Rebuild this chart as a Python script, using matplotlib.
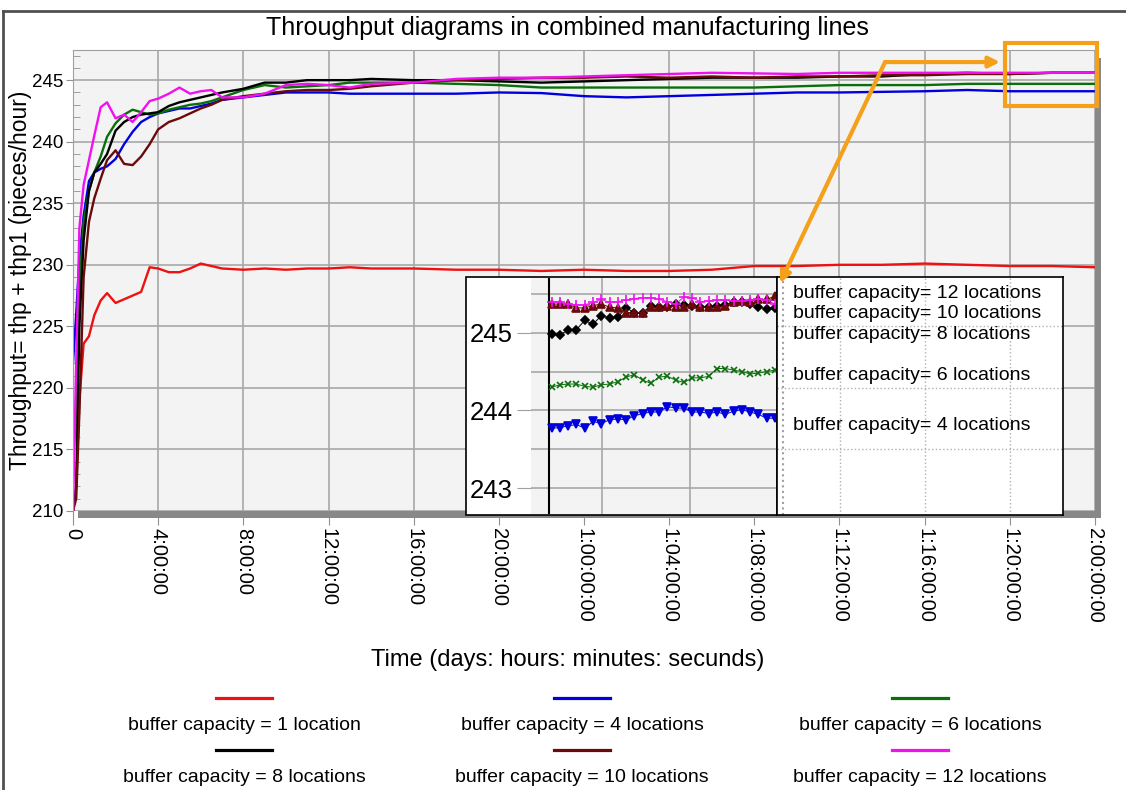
import numpy as np
import matplotlib.pyplot as plt
from matplotlib.patches import Rectangle, FancyArrowPatch
from matplotlib.lines import Line2D

plt.rcParams['font.family'] = ['Liberation Sans', 'DejaVu Sans']

# ---- data ----
hours = [0, 0.15, 0.3, 0.5, 0.75, 1.0, 1.3, 1.6, 2.0, 2.4, 2.8, 3.2, 3.6, 4.0, 4.5, 5.0, 5.5, 6.0, 6.5, 7.0,
         8, 9, 10, 11, 12, 13, 14,
         16, 18, 20, 22, 24, 26, 28, 30, 32, 34, 36, 38, 40, 42, 44, 46, 48]

thp_buf1 = [210, 212, 219, 223.6, 224.2, 225.9, 227.1, 227.7, 226.9, 227.2, 227.5, 227.8, 229.8, 229.7, 229.4,
            229.4, 229.7, 230.1, 229.9, 229.7,
            229.6, 229.7, 229.6, 229.7, 229.7, 229.8, 229.7,
            229.7, 229.6, 229.6, 229.5, 229.6, 229.5, 229.5, 229.6, 229.9, 229.9, 230.0, 230.0, 230.1, 230.0,
            229.9, 229.9, 229.8]
thp_buf4 = [222, 226, 230.5, 234, 236.8, 237.5, 237.8, 238.0, 238.6, 239.8, 240.8, 241.6, 242.0, 242.3, 242.5,
            242.7, 242.7, 242.9, 243.1, 243.4,
            243.6, 243.8, 244.0, 244.0, 244.0, 243.9, 243.9,
            243.9, 243.9, 244.0, 243.95, 243.7, 243.6, 243.7, 243.8, 243.9, 244.0, 244.0, 244.05, 244.1, 244.2,
            244.1, 244.1, 244.1]
thp_buf6 = [214, 218, 228, 233.5, 236, 237.5, 238.8, 240.4, 241.5, 242.2, 242.6, 242.4, 242.2, 242.3, 242.6,
            242.8, 243.0, 243.1, 243.3, 243.6,
            244.2, 244.6, 244.4, 244.5, 244.6, 244.8, 244.8,
            244.8, 244.7, 244.6, 244.4, 244.4, 244.4, 244.4, 244.4, 244.4, 244.5, 244.6, 244.6, 244.6, 244.7,
            244.7, 244.7, 244.7]
thp_buf8 = [210, 212, 225, 232, 236, 237.5, 238.2, 239.0, 240.9, 241.6, 242.0, 242.2, 242.3, 242.4, 242.9,
            243.2, 243.4, 243.6, 243.8, 244.0,
            244.3, 244.8, 244.8, 245.0, 245.0, 245.0, 245.1,
            245.0, 245.0, 244.9, 244.8, 244.9, 245.0, 245.1, 245.2, 245.2, 245.2, 245.3, 245.3, 245.5, 245.6,
            245.5, 245.6, 245.6]
thp_buf10 = [210, 211, 218, 229, 233.5, 235.4, 237.0, 238.5, 239.3, 238.2, 238.1, 238.8, 239.8, 241.0, 241.6,
             241.9, 242.3, 242.7, 243.0, 243.4,
             243.7, 243.9, 244.1, 244.2, 244.2, 244.3, 244.5,
             244.8, 245.0, 245.1, 245.2, 245.2, 245.3, 245.2, 245.3, 245.2, 245.3, 245.3, 245.4, 245.4, 245.5,
             245.5, 245.6, 245.6]
thp_buf12 = [210, 222, 233, 236.5, 238.5, 240.5, 242.8, 243.2, 241.9, 242.2, 241.6, 242.4, 243.3, 243.5, 243.9,
             244.4, 243.9, 244.1, 244.2, 243.6,
             243.6, 243.9, 244.6, 244.7, 244.6, 244.4, 244.7,
             244.8, 245.1, 245.2, 245.2, 245.3, 245.4, 245.5, 245.6, 245.55, 245.5, 245.6, 245.6, 245.6, 245.6,
             245.6, 245.6, 245.6]

# zoomed detail of the last hours
inset_hours = np.linspace(44.0, 48.0, 28)
inset_buf4 = [243.77, 243.78, 243.80, 243.82, 243.77, 243.86, 243.83, 243.88, 243.89, 243.88, 243.93, 243.96,
              243.98, 243.98, 244.05, 244.03, 244.03, 243.98, 243.98, 243.96, 243.98, 243.95, 243.99, 244.01,
              243.98, 243.95, 243.90, 243.90]
inset_buf6 = [244.30, 244.33, 244.34, 244.34, 244.31, 244.30, 244.33, 244.34, 244.37, 244.43, 244.46, 244.39,
              244.35, 244.43, 244.44, 244.39, 244.36, 244.42, 244.42, 244.44, 244.54, 244.54, 244.52, 244.50,
              244.47, 244.48, 244.50, 244.52]
inset_buf8 = [244.98, 244.97, 245.04, 245.04, 245.16, 245.11, 245.22, 245.19, 245.20, 245.32, 245.26, 245.26,
              245.35, 245.33, 245.33, 245.37, 245.36, 245.35, 245.33, 245.33, 245.35, 245.36, 245.39, 245.39,
              245.37, 245.33, 245.31, 245.32]
inset_buf10 = [245.37, 245.37, 245.37, 245.32, 245.32, 245.35, 245.37, 245.33, 245.32, 245.26, 245.26, 245.26,
               245.33, 245.33, 245.35, 245.33, 245.33, 245.37, 245.33, 245.33, 245.33, 245.35, 245.39, 245.41,
               245.40, 245.43, 245.43, 245.47]
inset_buf12 = [245.40, 245.39, 245.37, 245.36, 245.36, 245.39, 245.43, 245.39, 245.40, 245.42, 245.44, 245.45,
               245.45, 245.43, 245.40, 245.37, 245.46, 245.45, 245.40, 245.41, 245.42, 245.42, 245.41, 245.41,
               245.42, 245.43, 245.42, 245.37]

x_tick_labels = ["0", "4:00:00", "8:00:00", "12:00:00", "16:00:00", "20:00:00", "1:00:00:00", "1:04:00:00",
                 "1:08:00:00", "1:12:00:00", "1:16:00:00", "1:20:00:00", "2:00:00:00"]
legend_labels = ["buffer capacity = 1 location", "buffer capacity = 4 locations", "buffer capacity = 6 locations",
                 "buffer capacity = 8 locations", "buffer capacity = 10 locations", "buffer capacity = 12 locations"]
inset_labels = ["buffer capacity= 12 locations", "buffer capacity= 10 locations", "buffer capacity= 8 locations",
                "buffer capacity= 6 locations", "buffer capacity= 4 locations"]

colors = ["#ee1111", "#0000dd", "#0a6e0a", "#000000", "#6a0a0a", "#f010f0"]
ORANGE = "#f5a01a"


# ---- helpers: pixel -> figure fraction ----
def fx(px):
    return px / 1126


def fy(py):
    return 1 - py / 790


fig = plt.figure(figsize=(11.26, 7.9), dpi=100)

# main axes
ax = fig.add_axes([fx(73), fy(511), 1022 / 1126, 461 / 790])
ax.set_facecolor("#f3f3f3")
series = [thp_buf1, thp_buf4, thp_buf6, thp_buf8, thp_buf10, thp_buf12]
for vals, c in zip(series, colors):
    ax.plot(hours, vals, color=c, lw=1.7)
ax.set_xlim(0, 48)
ax.set_ylim(210, 247.45)
ax.set_xticks(range(0, 49, 4))
ax.set_xticklabels(x_tick_labels, rotation=270, fontsize=14.5)
ax.set_yticks(range(210, 246, 5))
ax.set_yticks(range(210, 248), minor=True)
ax.tick_params(axis="y", which="major", labelsize=13.5, length=5, pad=2, color="#909090")
ax.tick_params(axis="y", which="minor", direction="in", length=5, color="#909090")
ax.tick_params(axis="x", which="major", length=10, pad=2, color="#909090")
ax.grid(True, which="major", color="#a8a8a8", lw=1.2)
for s in ["top", "left"]:
    ax.spines[s].set_color("#a0a0a0")
for s in ["bottom", "right"]:
    ax.spines[s].set_visible(False)

# 3d-ish shadow of the plot area
fig.add_artist(Rectangle((fx(78), fy(518)), (1101 - 78) / 1126, 7 / 790, transform=fig.transFigure,
                         facecolor="#888888", edgecolor="none", zorder=1))
fig.add_artist(Rectangle((fx(1095), fy(518)), 6 / 1126, (518 - 58) / 790, transform=fig.transFigure,
                         facecolor="#888888", edgecolor="none", zorder=1))

# titles
fig.text(0.5035, fy(28), "Throughput diagrams in combined manufacturing lines", ha="center", va="center",
         fontsize=18)
fig.text(fx(568), fy(660), "Time (days: hours: minutes: secunds)", ha="center", va="center", fontsize=17)
fig.text(fx(21), fy(280), "Throughput= thp + thp1 (pieces/hour)", ha="center", va="center", rotation=90,
         fontsize=16.5)

# legend below the chart
col_x = [244, 582, 920]
row_y = [698, 750]
for i, (lab, c) in enumerate(zip(legend_labels, colors)):
    cx = col_x[i % 3]
    ly = row_y[i // 3]
    fig.add_artist(Line2D([fx(cx - 28), fx(cx + 28)], [fy(ly), fy(ly)], transform=fig.transFigure,
                          color=c, lw=2.3))
    fig.text(fx(cx), fy(ly + 27), lab, ha="center", va="center", fontsize=14)

# frame of the picture
fig.add_artist(Line2D([fx(3), fx(3)], [fy(11), 0], transform=fig.transFigure, color="#505050", lw=2))
fig.add_artist(Line2D([fx(3), 1], [fy(11), fy(11)], transform=fig.transFigure, color="#505050", lw=2))

# ---- inset with the last hours ----
fig.add_artist(Rectangle((fx(466), fy(515)), (777 - 466) / 1126, (515 - 277) / 790, transform=fig.transFigure,
                         facecolor="white", edgecolor="black", lw=1.2, zorder=4))
axi = fig.add_axes([fx(531), fy(514), (776 - 531) / 1126, (514 - 278) / 790], zorder=5)
axi.set_facecolor("#f3f3f3")
axi.set_xlim(43.63, 48.02)
axi.set_ylim(242.667, 245.705)
axi.axvline(43.95, color="black", lw=1.5)
inset_series = [(inset_buf4, colors[1], "v", 6), (inset_buf6, colors[2], "x", 5),
                (inset_buf8, colors[3], "D", 4), (inset_buf10, colors[4], "^", 6),
                (inset_buf12, colors[5], "+", 7)]
for vals, c, m, ms in inset_series:
    axi.plot(inset_hours, vals, color=c, lw=0.7, marker=m, ms=ms, mew=1.2)
axi.set_yticks([243, 244, 245])
axi.set_yticks([243.5, 244.5, 245.5], minor=True)
axi.set_xticks([44.9, 46.48])
axi.set_xticklabels([])
axi.tick_params(axis="y", which="major", length=10, pad=3, labelsize=18.5, color="#a0a0a0")
axi.tick_params(axis="y", which="minor", length=0)
axi.tick_params(axis="x", length=0)
axi.grid(True, which="both", color="#a8a8a8", lw=1.2)
for s in axi.spines.values():
    s.set_visible(False)

# label box of the inset, showing the main grid dotted underneath
fig.canvas.draw()
to_data = ax.transData.inverted()
x0, y0 = to_data.transform(fig.transFigure.transform((fx(777), fy(515))))
x1, y1 = to_data.transform(fig.transFigure.transform((fx(1063), fy(277))))
axl = fig.add_axes([fx(777), fy(515), (1063 - 777) / 1126, (515 - 277) / 790], zorder=5)
axl.set_facecolor("white")
axl.set_xlim(x0, x1)
axl.set_ylim(y0, y1)
axl.set_xticks([36, 40, 44])
axl.set_yticks([215, 220, 225])
axl.tick_params(length=0, labelbottom=False, labelleft=False)
axl.grid(True, color="#b0b0b0", ls=":", lw=1)
axl.plot([0.021, 0.021], [0, 1], transform=axl.transAxes, color="#a0a0a0", ls=":", lw=1.5)
for s in axl.spines.values():
    s.set_color("black")
    s.set_linewidth(1.2)
label_y = [293, 313, 334, 375, 425]
for lab, py in zip(inset_labels, label_y):
    axl.text(0.056, (515 - py) / 238, lab, transform=axl.transAxes, ha="left", va="center", fontsize=14)

# ---- orange zoom marker and arrows ----
fig.add_artist(Rectangle((43.77, 242.9), 48.09 - 43.77, 248.02 - 242.9, transform=ax.transData,
                         facecolor="none", edgecolor=ORANGE, lw=3, zorder=10))
for end in [(43.54, 246.47), (33.21, 228.52)]:
    fig.add_artist(FancyArrowPatch((38.14, 246.47), end, transform=ax.transData, arrowstyle="-|>",
                                   mutation_scale=16, color=ORANGE, lw=3, shrinkA=0, shrinkB=0, zorder=10))

plt.savefig("out.png", dpi=100)
